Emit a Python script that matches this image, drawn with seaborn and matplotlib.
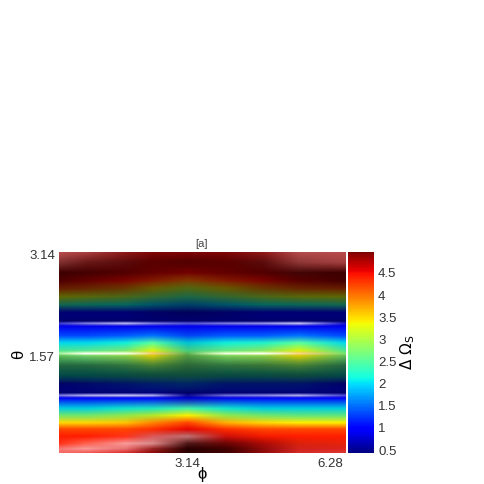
import numpy as np
import matplotlib
matplotlib.use("Agg")
import matplotlib.pyplot as plt
from matplotlib.colors import ListedColormap
from matplotlib.image import NonUniformImage
import seaborn as sns

plt.rcParams['font.family'] = ['Liberation Sans', 'DejaVu Sans']

phi = [0.33, 0.90, 1.78, 2.37, 3.14, 3.98, 4.79, 5.58, 6.60]
theta = [3.17, 3.02, 2.86, 2.74, 2.62, 2.49, 2.37, 2.25, 2.115, 2.08, 2.035, 1.89, 1.78,
         1.655, 1.615, 1.58, 1.43, 1.29, 1.15, 1.01, 0.97, 0.93, 0.77, 0.66, 0.55, 0.45,
         0.34, 0.23, 0.15, 0.09]

delta_omega = np.array([
    [4.8, 4.8, 4.8, 4.8, 4.8, 4.8, 4.8, 4.8, 4.8],
    [4.85, 4.85, 4.85, 4.85, 4.9, 4.85, 4.85, 4.85, 4.85],
    [4.9, 4.9, 4.85, 4.8, 4.7, 4.8, 4.85, 4.9, 4.9],
    [4.7, 4.6, 4.5, 4.3, 4.0, 4.3, 4.5, 4.6, 4.7],
    [4.2, 4.1, 3.9, 3.5, 3.1, 3.5, 3.9, 4.1, 4.2],
    [3.3, 3.2, 3.0, 2.7, 2.4, 2.7, 3.0, 3.2, 3.3],
    [2.3, 2.2, 2.1, 1.9, 1.7, 1.9, 2.1, 2.2, 2.3],
    [0.9, 0.9, 0.9, 0.8, 0.7, 0.8, 0.9, 0.9, 0.9],
    [0.5, 0.5, 0.5, 0.5, 0.5, 0.5, 0.5, 0.5, 0.5],
    [0.7, 0.7, 0.7, 0.7, 0.7, 0.7, 0.7, 0.7, 0.7],
    [0.85, 0.85, 0.85, 0.85, 0.85, 0.85, 0.85, 0.85, 0.85],
    [1.3, 1.3, 1.4, 1.5, 1.3, 1.4, 1.4, 1.5, 1.3],
    [2.0, 2.0, 2.1, 2.5, 2.0, 2.1, 2.2, 2.5, 2.0],
    [2.5, 2.5, 2.7, 3.3, 2.5, 2.6, 2.8, 3.3, 2.5],
    [2.7, 2.8, 3.0, 3.7, 2.7, 2.9, 3.0, 3.7, 2.7],
    [2.7, 2.7, 2.9, 3.4, 2.75, 2.8, 2.9, 3.4, 2.7],
    [2.5, 2.5, 2.6, 2.8, 2.6, 2.6, 2.7, 2.8, 2.5],
    [2.1, 2.1, 2.2, 2.3, 2.3, 2.2, 2.2, 2.3, 2.1],
    [1.0, 1.1, 1.2, 1.3, 1.4, 1.2, 1.2, 1.2, 1.0],
    [0.55, 0.55, 0.55, 0.6, 0.6, 0.55, 0.55, 0.55, 0.55],
    [0.7, 0.7, 0.7, 0.7, 0.7, 0.7, 0.7, 0.7, 0.7],
    [0.9, 0.9, 0.9, 0.9, 0.9, 0.9, 0.9, 0.9, 0.9],
    [2.0, 2.0, 2.1, 2.2, 2.4, 2.1, 2.0, 2.0, 2.0],
    [2.7, 2.7, 2.9, 3.1, 3.4, 2.9, 2.7, 2.6, 2.6],
    [3.5, 3.5, 3.6, 3.9, 4.2, 3.7, 3.5, 3.4, 3.4],
    [4.2, 4.2, 4.2, 4.3, 4.5, 4.3, 4.2, 4.2, 4.2],
    [4.4, 4.4, 4.4, 4.6, 4.7, 4.5, 4.4, 4.4, 4.4],
    [4.4, 4.4, 4.5, 4.7, 4.9, 4.7, 4.5, 4.4, 4.4],
    [4.5, 4.5, 4.6, 4.8, 4.9, 4.8, 4.6, 4.5, 4.5],
    [4.5, 4.5, 4.6, 4.8, 4.9, 4.8, 4.6, 4.5, 4.5],
])

shadow = np.array([
    [0.05, 0.15, 0.2, 0.25, 0.25, 0.25, 0.2, 0.1, 0.05],
    [0.35, 0.4, 0.45, 0.4, 0.4, 0.4, 0.45, 0.25, 0.1],
    [0.55, 0.5, 0.45, 0.4, 0.4, 0.4, 0.45, 0.55, 0.55],
    [0.6, 0.55, 0.5, 0.5, 0.5, 0.5, 0.5, 0.6, 0.65],
    [0.6, 0.6, 0.6, 0.6, 0.6, 0.6, 0.6, 0.6, 0.6],
    [0.6, 0.6, 0.6, 0.6, 0.6, 0.6, 0.6, 0.6, 0.6],
    [0.6, 0.6, 0.6, 0.6, 0.6, 0.6, 0.6, 0.6, 0.6],
    [0.55, 0.55, 0.55, 0.55, 0.55, 0.55, 0.55, 0.55, 0.55],
    [0.3, 0.3, 0.3, 0.3, 0.3, 0.3, 0.3, 0.3, 0.3],
    [0.05, 0.05, 0.05, 0.05, 0.05, 0.05, 0.05, 0.05, 0.05],
    [0.0, 0.0, 0.0, 0.0, 0.0, 0.0, 0.0, 0.0, 0.0],
    [0.0, 0.0, 0.0, 0.0, 0.05, 0.0, 0.0, 0.0, 0.0],
    [0.05, 0.05, 0.05, 0.0, 0.15, 0.05, 0.05, 0.0, 0.05],
    [0.1, 0.1, 0.1, 0.05, 0.2, 0.1, 0.1, 0.05, 0.1],
    [0.1, 0.05, 0.05, 0.05, 0.3, 0.05, 0.05, 0.05, 0.1],
    [0.25, 0.2, 0.2, 0.15, 0.4, 0.2, 0.2, 0.15, 0.25],
    [0.6, 0.6, 0.55, 0.5, 0.6, 0.55, 0.55, 0.5, 0.6],
    [0.7, 0.7, 0.7, 0.7, 0.7, 0.7, 0.7, 0.7, 0.7],
    [0.6, 0.6, 0.6, 0.6, 0.6, 0.6, 0.6, 0.6, 0.6],
    [0.3, 0.3, 0.3, 0.3, 0.4, 0.3, 0.3, 0.3, 0.3],
    [0.05, 0.05, 0.05, 0.05, 0.3, 0.1, 0.05, 0.05, 0.05],
    [0.0, 0.0, 0.0, 0.0, 0.2, 0.05, 0.0, 0.0, 0.0],
    [0.1, 0.1, 0.1, 0.1, 0.05, 0.1, 0.1, 0.1, 0.1],
    [0.1, 0.1, 0.1, 0.1, 0.0, 0.1, 0.1, 0.1, 0.1],
    [0.0, 0.0, 0.0, 0.0, 0.0, 0.0, 0.0, 0.0, 0.0],
    [0.0, 0.0, 0.0, 0.0, 0.05, 0.0, 0.0, 0.0, 0.0],
    [0.0, 0.0, 0.0, 0.05, 0.25, 0.15, 0.05, 0.0, 0.0],
    [0.0, 0.0, 0.0, 0.1, 0.55, 0.45, 0.3, 0.15, 0.1],
    [0.0, 0.0, 0.0, 0.15, 0.7, 0.6, 0.35, 0.15, 0.1],
    [0.0, 0.0, 0.0, 0.15, 0.7, 0.6, 0.35, 0.15, 0.1],
])

gloss = np.array([
    [0.3, 0.25, 0.1, 0.03, 0.02, 0.03, 0.1, 0.3, 0.3],
    [0.2, 0.1, 0.05, 0.0, 0.0, 0.0, 0.05, 0.22, 0.25],
    [0.0, 0.0, 0.0, 0.0, 0.0, 0.0, 0.0, 0.03, 0.0],
    [0.0, 0.0, 0.0, 0.0, 0.0, 0.0, 0.0, 0.0, 0.0],
    [0.0, 0.0, 0.0, 0.0, 0.0, 0.0, 0.0, 0.0, 0.0],
    [0.0, 0.0, 0.0, 0.0, 0.0, 0.0, 0.0, 0.0, 0.0],
    [0.0, 0.0, 0.0, 0.0, 0.0, 0.0, 0.0, 0.0, 0.0],
    [0.0, 0.0, 0.0, 0.0, 0.0, 0.0, 0.0, 0.0, 0.0],
    [0.0, 0.0, 0.0, 0.0, 0.0, 0.0, 0.0, 0.0, 0.0],
    [0.25, 0.5, 0.75, 0.5, 0.35, 0.5, 0.6, 0.8, 0.1],
    [0.0, 0.0, 0.0, 0.0, 0.0, 0.0, 0.0, 0.0, 0.0],
    [0.0, 0.0, 0.0, 0.0, 0.0, 0.0, 0.0, 0.0, 0.0],
    [0.0, 0.0, 0.0, 0.0, 0.0, 0.0, 0.0, 0.0, 0.0],
    [0.0, 0.05, 0.05, 0.0, 0.0, 0.05, 0.05, 0.0, 0.0],
    [0.4, 0.95, 0.9, 0.45, 0.0, 0.85, 0.95, 0.55, 0.0],
    [0.0, 0.05, 0.05, 0.0, 0.0, 0.05, 0.05, 0.0, 0.0],
    [0.0, 0.0, 0.0, 0.0, 0.0, 0.0, 0.0, 0.0, 0.0],
    [0.0, 0.0, 0.0, 0.0, 0.0, 0.0, 0.0, 0.0, 0.0],
    [0.0, 0.0, 0.0, 0.0, 0.0, 0.0, 0.0, 0.0, 0.0],
    [0.0, 0.0, 0.0, 0.0, 0.0, 0.0, 0.0, 0.0, 0.0],
    [0.5, 0.7, 0.8, 0.7, 0.05, 0.45, 0.55, 0.7, 0.3],
    [0.0, 0.0, 0.0, 0.0, 0.0, 0.0, 0.0, 0.0, 0.0],
    [0.0, 0.0, 0.0, 0.0, 0.0, 0.0, 0.0, 0.0, 0.0],
    [0.0, 0.0, 0.0, 0.0, 0.0, 0.0, 0.0, 0.0, 0.0],
    [0.0, 0.0, 0.0, 0.0, 0.0, 0.0, 0.0, 0.0, 0.0],
    [0.0, 0.0, 0.0, 0.0, 0.0, 0.0, 0.0, 0.0, 0.0],
    [0.0, 0.0, 0.1, 0.35, 0.45, 0.05, 0.0, 0.0, 0.0],
    [0.1, 0.3, 0.6, 0.55, 0.1, 0.03, 0.03, 0.05, 0.05],
    [0.45, 0.6, 0.45, 0.15, 0.0, 0.0, 0.05, 0.12, 0.12],
    [0.4, 0.35, 0.2, 0.05, 0.0, 0.0, 0.05, 0.15, 0.2],
])

colorbar_ticks = [0.5, 1, 1.5, 2, 2.5, 3, 3.5, 4, 4.5]
colorbar_labels = ["0.5", "1", "1.5", "2", "2.5", "3", "3.5", "4", "4.5"]
VMIN, VMAX = 0.41, 4.95

W = H = 485
fig = plt.figure(figsize=(W / 100, H / 100), dpi=100, facecolor='white')
ax = fig.add_axes([59 / W, 1 - 454 / H, 286 / W, 200 / H])
cax = fig.add_axes([348 / W, 1 - 454 / H, 26 / W, 201 / H])

# seaborn sets up the heatmap and colour bar; the smooth surface goes on the same axes
sns.heatmap(delta_omega, ax=ax, cbar_ax=cax, cmap='jet', vmin=VMIN, vmax=VMAX,
            cbar_kws={'ticks': colorbar_ticks})
ax.collections[0].set_visible(False)

black_a = ListedColormap(np.c_[np.zeros((256, 3)), np.linspace(0, 1, 256)])
white_a = ListedColormap(np.c_[np.ones((256, 3)), np.linspace(0, 1, 256)])
layers = [(delta_omega, 'jet', VMIN, VMAX), (shadow, black_a, 0, 1), (gloss, white_a, 0, 1)]
for table, cmap, lo, hi in layers:
    im = NonUniformImage(ax, interpolation='bilinear', cmap=cmap, norm=plt.Normalize(lo, hi))
    im.set_data(phi, theta[::-1], table[::-1])
    ax.add_image(im)

ax.set_xlim(0.33, 6.60)
ax.set_ylim(0.09, 3.17)
ax.set_xticks([3.14, 6.28], ["3.14", "6.28"], fontsize=9.5, rotation=0, color='#333333')
ax.set_yticks([1.57, 3.14], ["1.57", "3.14"], fontsize=9.5, rotation=0, color='#333333')
ax.tick_params(length=0, pad=3)
ax.set_title("[a]", fontsize=8, pad=5, color='#444444')
ax.set_xlabel("ϕ", fontsize=12, labelpad=-2)
ax.set_ylabel("θ", fontsize=12, labelpad=2)
for s in ax.spines.values():
    s.set_visible(False)

cax.set_yticklabels(colorbar_labels, fontsize=9.5, color='#333333')
cax.tick_params(length=0, pad=3)
fig.text(408 / W, 1 - 352 / H, r"$\Delta\ \Omega_{\mathrm{S}}$", rotation=90, fontsize=11,
         ha='center', va='center')

fig.savefig("out.png", dpi=100)
